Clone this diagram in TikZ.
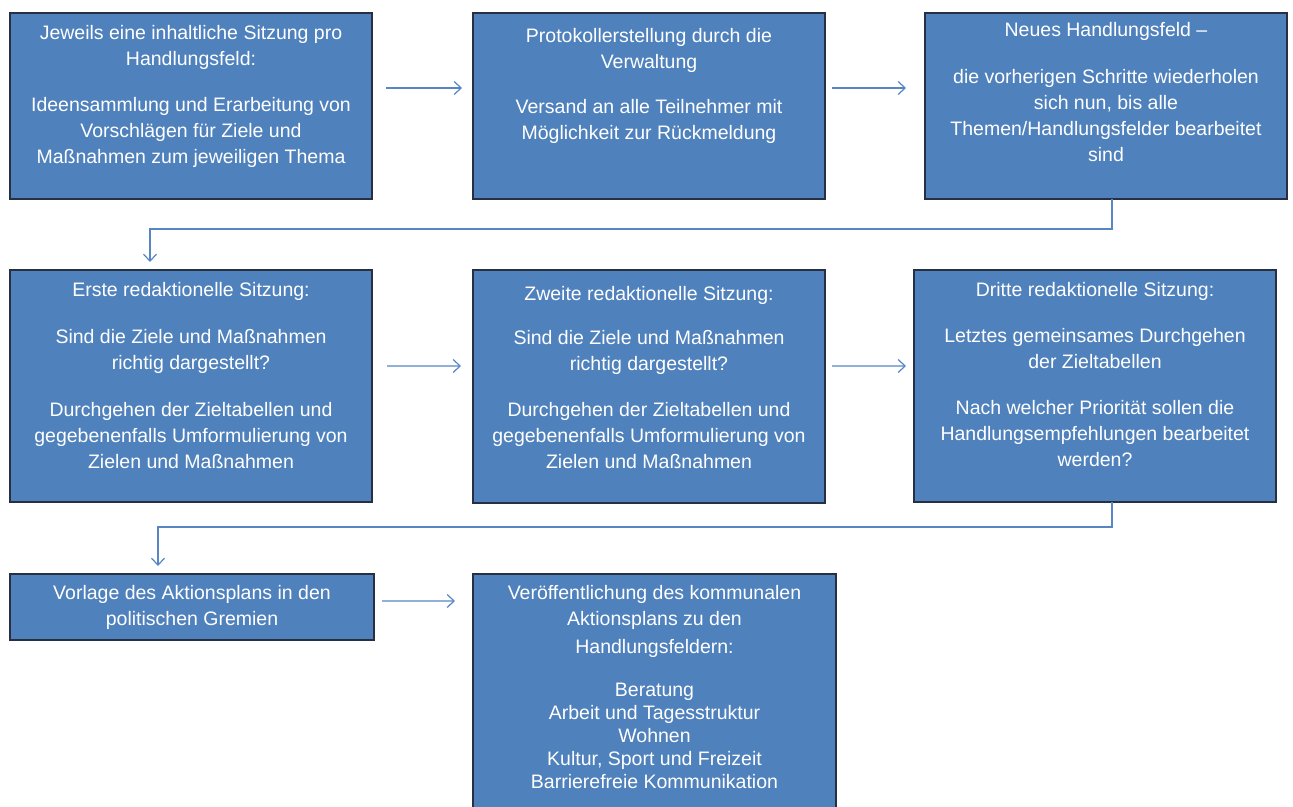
\documentclass[tikz,border=0pt]{standalone}
\usepackage{fontspec}
\setmainfont{Liberation Sans}
\usetikzlibrary{arrows.meta,calc}
\definecolor{boxblue}{RGB}{79,129,189}
\definecolor{boxline}{RGB}{38,48,66}
\definecolor{arrblue}{RGB}{86,134,196}
\begin{document}
\begin{tikzpicture}[x=1bp,y=-1bp,
  box/.style={draw=boxline, line width=1.5bp, fill=boxblue, inner sep=0pt, outer sep=0pt},
  txt/.style={text=white, font=\fontsize{19.5bp}{26bp}\selectfont, align=center, inner sep=0pt, anchor=north},
  arr/.style={draw=arrblue, line width=1.2bp, -{Straight Barb[length=7bp,width=13bp]}}]
\useasboundingbox (0,0) rectangle (1293,807);

% row 1
\node[box, minimum width=362bp, minimum height=186bp] (a1) at (191,106) {};
\node[box, minimum width=352bp, minimum height=186bp] (a2) at (649,106) {};
\node[box, minimum width=362bp, minimum height=186bp] (a3) at (1106,106) {};
% row 2
\node[box, minimum width=362bp, minimum height=232bp] (b1) at (191,386) {};
\node[box, minimum width=352bp, minimum height=233bp] (b2) at (649,386.5) {};
\node[box, minimum width=362bp, minimum height=232bp] (b3) at (1095,386) {};
% row 3
\node[box, minimum width=364bp, minimum height=66bp] (c1) at (192,607) {};
\node[box, minimum width=363bp, minimum height=236bp] (c2) at (654.5,692) {};

% texts
\node[txt] (a1t) at ([yshift=-12.5bp]a1.north) {Jeweils eine inhaltliche Sitzung pro\\ Handlungsfeld:\\[20bp] Ideensammlung und Erarbeitung von\\ Vorschlägen für Ziele und\\ Maßnahmen zum jeweiligen Thema};
\node[txt] (a2t) at ([yshift=-15.5bp]a2.north) {Protokollerstellung durch die\\ Verwaltung\\[19bp] Versand an alle Teilnehmer mit\\ Möglichkeit zur Rückmeldung};
\node[txt] (a3t) at ([yshift=-9.5bp]a3.north) {Neues Handlungsfeld –\\[21bp] die vorherigen Schritte wiederholen\\ sich nun, bis alle\\ Themen/Handlungsfelder bearbeitet\\ sind};
\node[txt] (b1t) at ([yshift=-12.5bp]b1.north) {Erste redaktionelle Sitzung:\\[21bp] Sind die Ziele und Maßnahmen\\ richtig dargestellt?\\[21bp] Durchgehen der Zieltabellen und\\ gegebenenfalls Umformulierung von\\ Zielen und Maßnahmen};
\node[txt] (b2t) at ([yshift=-16.5bp]b2.north) {Zweite redaktionelle Sitzung:\\[18bp] Sind die Ziele und Maßnahmen\\ richtig dargestellt?\\[20bp] Durchgehen der Zieltabellen und\\ gegebenenfalls Umformulierung von\\ Zielen und Maßnahmen};
\node[txt] (b3t) at ([yshift=-12.5bp]b3.north) {Dritte redaktionelle Sitzung:\\[20bp] Letztes gemeinsames Durchgehen\\ der Zieltabellen\\[20bp] Nach welcher Priorität sollen die\\ Handlungsempfehlungen bearbeitet\\ werden?};
\node[txt] (c1t) at ([yshift=-11.5bp]c1.north) {Vorlage des Aktionsplans in den\\ politischen Gremien};
\node[txt] (c2t) at ([yshift=-11.5bp]c2.north) {Veröffentlichung des kommunalen\\ Aktionsplans zu den\\[2bp] Handlungsfeldern:\\[17bp] Beratung\\[-3bp] Arbeit und Tagesstruktur\\[-3bp] Wohnen\\[-3bp] Kultur, Sport und Freizeit\\[-3bp] Barrierefreie Kommunikation};

% horizontal arrows
\draw[arr] ([xshift=14bp,yshift=18bp]a1.east) -- ([xshift=-11bp,yshift=18bp]a2.west);
\draw[arr] ([xshift=7bp,yshift=18bp]a2.east) -- ([xshift=-19bp,yshift=18bp]a3.west);
\draw[arr] ([xshift=15bp,yshift=20bp]b1.east) -- ([xshift=-12bp,yshift=20.5bp]b2.west);
\draw[arr] ([xshift=7bp,yshift=20.5bp]b2.east) -- ([xshift=-8bp,yshift=20bp]b3.west);
\draw[arr] ([xshift=8bp,yshift=6bp]c1.east) -- ([xshift=-18bp,yshift=91bp]c2.west);

% row connectors
\draw[arr] ([xshift=6bp]a3.south) -- ++(0,30) -| ([xshift=-41bp,yshift=8bp]b1.north);
\draw[arr] ([xshift=17bp]b3.south) -- ++(0,25) -| ([xshift=-34bp,yshift=8bp]c1.north);
\end{tikzpicture}
\end{document}
